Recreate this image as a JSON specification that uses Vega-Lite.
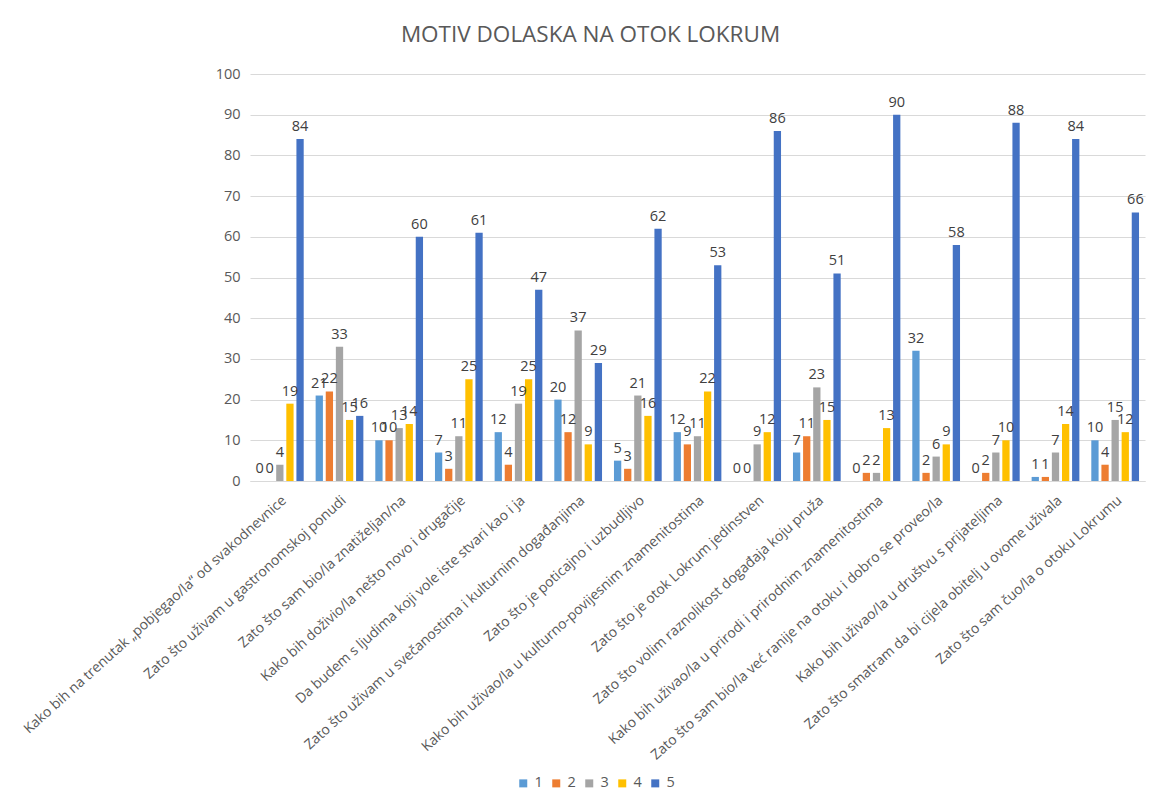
{
  "$schema": "https://vega.github.io/schema/vega-lite/v6.json",
  "autosize": "none",
  "width": 895,
  "height": 407,
  "padding": {"left": 250, "top": 74, "right": 14, "bottom": 317},
  "background": "white",
  "title": {"text": "MOTIV DOLASKA NA OTOK LOKRUM", "font": "Open Sans", "fontSize": 22.5, "fontWeight": "normal", "color": "#595959", "anchor": "middle", "dx": -107, "offset": 20},
  "data": {"values": [
    {"m": "Kako bih na trenutak „pobjegao/la“  od svakodnevnice", "r": "1", "v": 0},
    {"m": "Kako bih na trenutak „pobjegao/la“  od svakodnevnice", "r": "2", "v": 0},
    {"m": "Kako bih na trenutak „pobjegao/la“  od svakodnevnice", "r": "3", "v": 4},
    {"m": "Kako bih na trenutak „pobjegao/la“  od svakodnevnice", "r": "4", "v": 19},
    {"m": "Kako bih na trenutak „pobjegao/la“  od svakodnevnice", "r": "5", "v": 84},
    {"m": "Zato što uživam u gastronomskoj ponudi", "r": "1", "v": 21},
    {"m": "Zato što uživam u gastronomskoj ponudi", "r": "2", "v": 22},
    {"m": "Zato što uživam u gastronomskoj ponudi", "r": "3", "v": 33},
    {"m": "Zato što uživam u gastronomskoj ponudi", "r": "4", "v": 15},
    {"m": "Zato što uživam u gastronomskoj ponudi", "r": "5", "v": 16},
    {"m": "Zato što sam bio/la znatiželjan/na", "r": "1", "v": 10},
    {"m": "Zato što sam bio/la znatiželjan/na", "r": "2", "v": 10},
    {"m": "Zato što sam bio/la znatiželjan/na", "r": "3", "v": 13},
    {"m": "Zato što sam bio/la znatiželjan/na", "r": "4", "v": 14},
    {"m": "Zato što sam bio/la znatiželjan/na", "r": "5", "v": 60},
    {"m": "Kako bih doživio/la nešto novo i drugačije", "r": "1", "v": 7},
    {"m": "Kako bih doživio/la nešto novo i drugačije", "r": "2", "v": 3},
    {"m": "Kako bih doživio/la nešto novo i drugačije", "r": "3", "v": 11},
    {"m": "Kako bih doživio/la nešto novo i drugačije", "r": "4", "v": 25},
    {"m": "Kako bih doživio/la nešto novo i drugačije", "r": "5", "v": 61},
    {"m": "Da budem s ljudima koji vole iste stvari kao i ja", "r": "1", "v": 12},
    {"m": "Da budem s ljudima koji vole iste stvari kao i ja", "r": "2", "v": 4},
    {"m": "Da budem s ljudima koji vole iste stvari kao i ja", "r": "3", "v": 19},
    {"m": "Da budem s ljudima koji vole iste stvari kao i ja", "r": "4", "v": 25},
    {"m": "Da budem s ljudima koji vole iste stvari kao i ja", "r": "5", "v": 47},
    {"m": "Zato što uživam u svečanostima i kulturnim događanjima", "r": "1", "v": 20},
    {"m": "Zato što uživam u svečanostima i kulturnim događanjima", "r": "2", "v": 12},
    {"m": "Zato što uživam u svečanostima i kulturnim događanjima", "r": "3", "v": 37},
    {"m": "Zato što uživam u svečanostima i kulturnim događanjima", "r": "4", "v": 9},
    {"m": "Zato što uživam u svečanostima i kulturnim događanjima", "r": "5", "v": 29},
    {"m": "Zato što je poticajno i uzbudljivo", "r": "1", "v": 5},
    {"m": "Zato što je poticajno i uzbudljivo", "r": "2", "v": 3},
    {"m": "Zato što je poticajno i uzbudljivo", "r": "3", "v": 21},
    {"m": "Zato što je poticajno i uzbudljivo", "r": "4", "v": 16},
    {"m": "Zato što je poticajno i uzbudljivo", "r": "5", "v": 62},
    {"m": "Kako bih uživao/la u kulturno-povijesnim znamenitostima", "r": "1", "v": 12},
    {"m": "Kako bih uživao/la u kulturno-povijesnim znamenitostima", "r": "2", "v": 9},
    {"m": "Kako bih uživao/la u kulturno-povijesnim znamenitostima", "r": "3", "v": 11},
    {"m": "Kako bih uživao/la u kulturno-povijesnim znamenitostima", "r": "4", "v": 22},
    {"m": "Kako bih uživao/la u kulturno-povijesnim znamenitostima", "r": "5", "v": 53},
    {"m": "Zato što je otok Lokrum jedinstven", "r": "1", "v": 0},
    {"m": "Zato što je otok Lokrum jedinstven", "r": "2", "v": 0},
    {"m": "Zato što je otok Lokrum jedinstven", "r": "3", "v": 9},
    {"m": "Zato što je otok Lokrum jedinstven", "r": "4", "v": 12},
    {"m": "Zato što je otok Lokrum jedinstven", "r": "5", "v": 86},
    {"m": "Zato što volim raznolikost događaja koju pruža", "r": "1", "v": 7},
    {"m": "Zato što volim raznolikost događaja koju pruža", "r": "2", "v": 11},
    {"m": "Zato što volim raznolikost događaja koju pruža", "r": "3", "v": 23},
    {"m": "Zato što volim raznolikost događaja koju pruža", "r": "4", "v": 15},
    {"m": "Zato što volim raznolikost događaja koju pruža", "r": "5", "v": 51},
    {"m": "Kako bih uživao/la u prirodi i prirodnim znamenitostima", "r": "1", "v": 0},
    {"m": "Kako bih uživao/la u prirodi i prirodnim znamenitostima", "r": "2", "v": 2},
    {"m": "Kako bih uživao/la u prirodi i prirodnim znamenitostima", "r": "3", "v": 2},
    {"m": "Kako bih uživao/la u prirodi i prirodnim znamenitostima", "r": "4", "v": 13},
    {"m": "Kako bih uživao/la u prirodi i prirodnim znamenitostima", "r": "5", "v": 90},
    {"m": "Zato što sam bio/la već ranije na otoku i dobro se proveo/la", "r": "1", "v": 32},
    {"m": "Zato što sam bio/la već ranije na otoku i dobro se proveo/la", "r": "2", "v": 2},
    {"m": "Zato što sam bio/la već ranije na otoku i dobro se proveo/la", "r": "3", "v": 6},
    {"m": "Zato što sam bio/la već ranije na otoku i dobro se proveo/la", "r": "4", "v": 9},
    {"m": "Zato što sam bio/la već ranije na otoku i dobro se proveo/la", "r": "5", "v": 58},
    {"m": "Kako bih uživao/la u društvu s prijateljima", "r": "1", "v": 0},
    {"m": "Kako bih uživao/la u društvu s prijateljima", "r": "2", "v": 2},
    {"m": "Kako bih uživao/la u društvu s prijateljima", "r": "3", "v": 7},
    {"m": "Kako bih uživao/la u društvu s prijateljima", "r": "4", "v": 10},
    {"m": "Kako bih uživao/la u društvu s prijateljima", "r": "5", "v": 88},
    {"m": "Zato što smatram da bi cijela obitelj u ovome uživala", "r": "1", "v": 1},
    {"m": "Zato što smatram da bi cijela obitelj u ovome uživala", "r": "2", "v": 1},
    {"m": "Zato što smatram da bi cijela obitelj u ovome uživala", "r": "3", "v": 7},
    {"m": "Zato što smatram da bi cijela obitelj u ovome uživala", "r": "4", "v": 14},
    {"m": "Zato što smatram da bi cijela obitelj u ovome uživala", "r": "5", "v": 84},
    {"m": "Zato što sam čuo/la o otoku Lokrumu", "r": "1", "v": 10},
    {"m": "Zato što sam čuo/la o otoku Lokrumu", "r": "2", "v": 4},
    {"m": "Zato što sam čuo/la o otoku Lokrumu", "r": "3", "v": 15},
    {"m": "Zato što sam čuo/la o otoku Lokrumu", "r": "4", "v": 12},
    {"m": "Zato što sam čuo/la o otoku Lokrumu", "r": "5", "v": 66}
  ]},
  "encoding": {
    "x": {"field": "m", "type": "nominal", "sort": null, "title": null,
      "scale": {"paddingInner": 0.2, "paddingOuter": 0.1},
      "axis": {"labelAngle": -42, "labelFont": "Open Sans", "labelFontSize": 14, "labelColor": "#595959", "labelLimit": 600, "ticks": false, "domainColor": "#d9d9d9", "labelPadding": 12}},
    "xOffset": {"field": "r", "type": "nominal", "scale": {"paddingInner": 0.28}},
    "y": {"field": "v", "type": "quantitative", "title": null,
      "scale": {"domain": [0, 100]},
      "axis": {"values": [0,10,20,30,40,50,60,70,80,90,100], "labelFont": "Open Sans", "labelFontSize": 14.5, "labelColor": "#595959", "ticks": false, "domain": false, "gridColor": "#d9d9d9", "labelPadding": 10}}
  },
  "layer": [
    {"mark": {"type": "bar"},
      "encoding": {
        "color": {"field": "r", "type": "nominal", "title": null,
          "scale": {"domain": ["1","2","3","4","5"], "range": ["#5B9BD5", "#ED7D31", "#A5A5A5", "#FFC000", "#4472C4"]},
          "legend": {"orient": "none", "legendX": 266, "legendY": 702, "direction": "horizontal", "symbolType": "square", "symbolSize": 64, "labelFont": "Open Sans", "labelFontSize": 14.5, "labelColor": "#595959", "columnPadding": 6, "labelOffset": 4, "symbolStrokeWidth": 0}}
      }},
    {"mark": {"type": "text", "dy": -12, "font": "Open Sans", "fontSize": 14.5, "color": "#404040"},
      "encoding": {"text": {"field": "v", "type": "quantitative"}}}
  ],
  "config": {"view": {"stroke": null}}
}
